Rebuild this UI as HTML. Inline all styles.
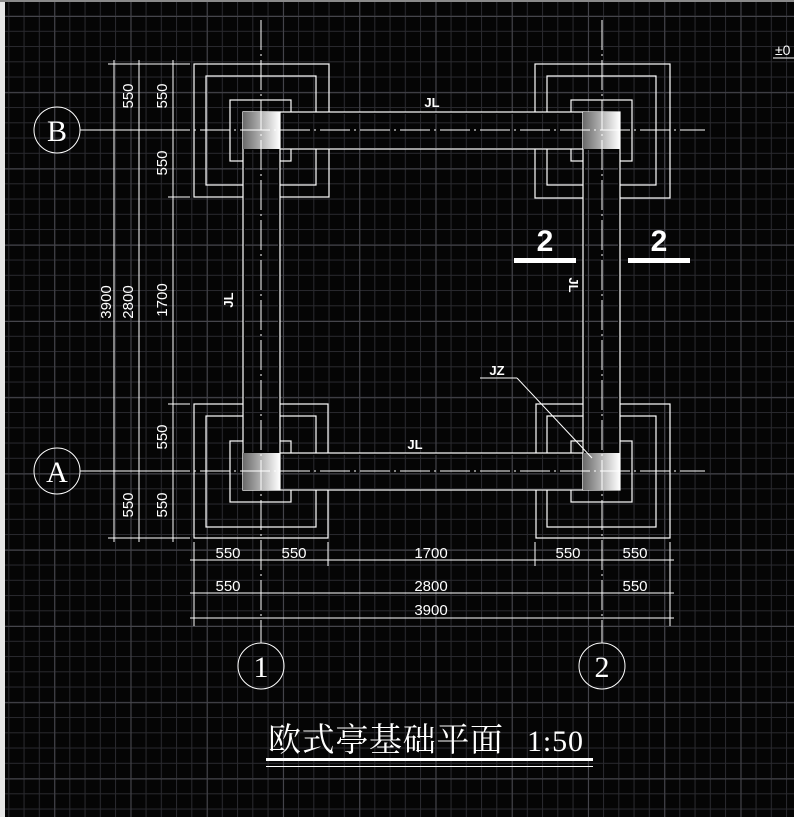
<!DOCTYPE html>
<html><head><meta charset="utf-8"><style>
html,body{margin:0;padding:0;background:#050505;}
svg{display:block}
text{font-family:"Liberation Sans","Noto Sans CJK SC",sans-serif;fill:#fff}
.s{font-family:"Liberation Serif","Noto Serif CJK SC",serif}
</style></head><body>
<svg width="794" height="817" viewBox="0 0 794 817" xmlns="http://www.w3.org/2000/svg">
<defs>
<pattern id="g" x="8.3" y="0.3" width="15.25" height="15.25" patternUnits="userSpaceOnUse">
<path d="M0.5 0V15.25M0 0.5H15.25" stroke="#2a2a2f" stroke-width="1"/>
</pattern>
<pattern id="G" x="54.3" y="16" width="76.25" height="76.25" patternUnits="userSpaceOnUse">
<path d="M0.5 0V76.25M0 0.5H76.25" stroke="#45454b" stroke-width="1"/>
</pattern>
<linearGradient id="col" x1="0" x2="1" y1="0" y2="0">
<stop offset="0" stop-color="#6a6a6a"/><stop offset="1" stop-color="#ffffff"/>
</linearGradient>
</defs>
<rect width="794" height="817" fill="#050505"/>
<rect width="794" height="817" fill="url(#g)"/>
<rect width="794" height="817" fill="url(#G)"/>
<rect x="0" y="0" width="5" height="817" fill="#e6e6e6"/>
<rect x="0" y="0" width="794" height="2" fill="#8a8a8a"/>

<g stroke="#fff" stroke-width="1.2" fill="none">
<rect x="194" y="64" width="135" height="133"/><rect x="206" y="76" width="110" height="109"/><rect x="230" y="100" width="61" height="61"/>
<rect x="535" y="64" width="135" height="134"/><rect x="547" y="76" width="109" height="109"/><rect x="571" y="100" width="61" height="61"/>
<rect x="194" y="404" width="134" height="134"/><rect x="206" y="416" width="110" height="111"/><rect x="230" y="441" width="61" height="61"/>
<rect x="536" y="404" width="134" height="134"/><rect x="547" y="416" width="109" height="111"/><rect x="571" y="441" width="61" height="61"/>
</g>
<g stroke="#fff" stroke-width="1.2" fill="#050505">
<rect x="243" y="112" width="340" height="37"/>
<rect x="243" y="453" width="340" height="37"/>
<rect x="243" y="112" width="37" height="378"/>
<rect x="583" y="112" width="37" height="378"/>
</g>
<g fill="#050505">
<rect x="245" y="150" width="33" height="302"/>
<rect x="585" y="150" width="33" height="302"/>
<rect x="281" y="114" width="301" height="34"/>
<rect x="281" y="455" width="301" height="34"/>
</g>
<g fill="url(#g)">
<rect x="245" y="150" width="33" height="302"/>
<rect x="585" y="150" width="33" height="302"/>
<rect x="281" y="114" width="301" height="34"/>
<rect x="281" y="455" width="301" height="34"/>
</g>
<g fill="url(#G)">
<rect x="245" y="150" width="33" height="302"/>
<rect x="585" y="150" width="33" height="302"/>
<rect x="281" y="114" width="301" height="34"/>
<rect x="281" y="455" width="301" height="34"/>
</g>
<rect x="243" y="112" width="37" height="37" fill="url(#col)"/>
<rect x="583" y="112" width="37" height="37" fill="url(#col)"/>
<rect x="243" y="453" width="37" height="37" fill="url(#col)"/>
<rect x="583" y="453" width="37" height="37" fill="url(#col)"/>

<g stroke="#fff" stroke-width="1" stroke-dasharray="30,4,2,4">
<line x1="80" y1="130" x2="705" y2="130"/>
<line x1="80" y1="471" x2="705" y2="471"/>
<line x1="261" y1="20" x2="261" y2="643"/>
<line x1="602" y1="20" x2="602" y2="643"/>
</g>
<g stroke="#fff" stroke-width="1" fill="none">
<circle cx="57" cy="130" r="23"/><circle cx="57" cy="471" r="23"/>
<circle cx="261" cy="666" r="23"/><circle cx="602" cy="666" r="23"/>
<line x1="114" y1="60" x2="114" y2="542"/><line x1="139" y1="60" x2="139" y2="542"/><line x1="173" y1="60" x2="173" y2="542"/>
<line x1="108" y1="64" x2="190" y2="64"/>
<line x1="168" y1="197" x2="190" y2="197"/>
<line x1="168" y1="404" x2="190" y2="404"/>
<line x1="108" y1="538" x2="190" y2="538"/>
<line x1="108" y1="130" x2="180" y2="130"/>
<line x1="108" y1="471" x2="180" y2="471"/>
<line x1="190" y1="560" x2="674" y2="560"/>
<line x1="190" y1="593" x2="674" y2="593"/>
<line x1="190" y1="618" x2="674" y2="618"/>
<line x1="194" y1="542" x2="194" y2="626"/>
<line x1="328" y1="542" x2="328" y2="566"/>
<line x1="535" y1="542" x2="535" y2="566"/>
<line x1="670" y1="542" x2="670" y2="626"/>
<line x1="480" y1="378" x2="517" y2="378"/>
<line x1="517" y1="378" x2="592" y2="458"/>
<line x1="773" y1="58" x2="794" y2="58"/>
</g>
<rect x="514" y="258" width="62" height="5" fill="#fff"/>
<rect x="628" y="258" width="62" height="5" fill="#fff"/>

<g font-size="30" text-anchor="middle">
<text class="s" x="57" y="141">B</text>
<text class="s" x="57" y="482">A</text>
<text class="s" x="261" y="677">1</text>
<text class="s" x="602" y="677">2</text>
</g>
<g font-size="15" text-anchor="middle">
<text x="228" y="558">550</text><text x="294" y="558">550</text><text x="431" y="558">1700</text><text x="568" y="558">550</text><text x="635" y="558">550</text>
<text x="228" y="591">550</text><text x="431" y="591">2800</text><text x="635" y="591">550</text>
<text x="431" y="615">3900</text>
<text transform="translate(133,96) rotate(-90)">550</text>
<text transform="translate(167,96) rotate(-90)">550</text>
<text transform="translate(167,163) rotate(-90)">550</text>
<text transform="translate(167,300) rotate(-90)">1700</text>
<text transform="translate(133,302) rotate(-90)">2800</text>
<text transform="translate(111,302) rotate(-90)">3900</text>
<text transform="translate(167,437) rotate(-90)">550</text>
<text transform="translate(167,505) rotate(-90)">550</text>
<text transform="translate(133,505) rotate(-90)">550</text>
</g>
<g font-size="13" font-weight="bold" text-anchor="middle">
<text x="432" y="107">JL</text>
<text x="415" y="449">JL</text>
<text transform="translate(233,300) rotate(-90)">JL</text>
<text transform="translate(569,285) rotate(90)">JL</text>
<text x="497" y="375">JZ</text>
</g>
<g font-size="30" font-weight="bold" text-anchor="middle">
<text x="545" y="251">2</text><text x="659" y="251">2</text>
</g>
<text x="775" y="55" font-size="14">±0</text>
<text x="268" y="751" font-size="33" style="font-family:'Liberation Serif','Noto Serif CJK SC',serif" textLength="235">欧式亭基础平面</text>
<text x="527" y="751" font-size="30" style="font-family:'Liberation Serif',serif" textLength="56">1:50</text>
<rect x="266" y="758" width="327" height="3" fill="#fff"/>
<rect x="266" y="766" width="327" height="1" fill="#fff"/>
</svg>
</body></html>
